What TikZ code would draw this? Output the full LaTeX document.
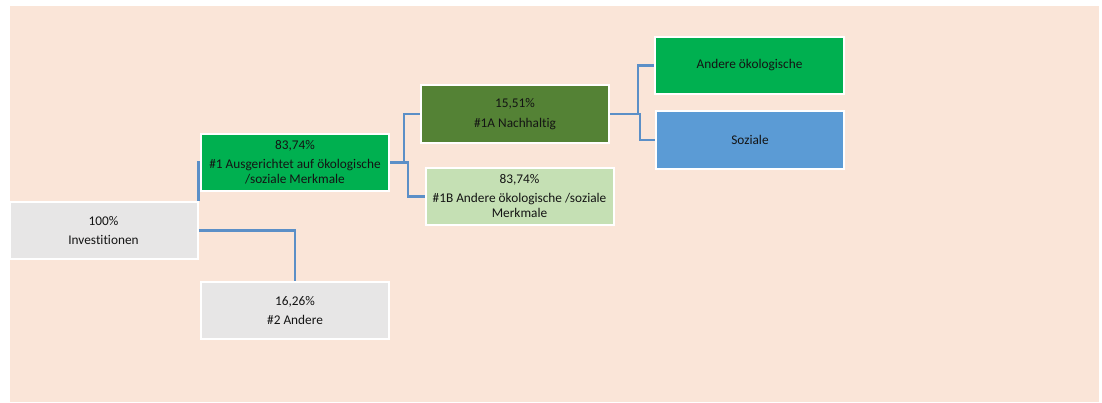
\documentclass[tikz,border=0pt]{standalone}
\usepackage{fontspec}
\setmainfont{Carlito}[Ligatures={NoCommon}]
\definecolor{bgpeach}{RGB}{250,229,216}
\definecolor{boxgray}{RGB}{231,230,230}
\definecolor{boxgreen}{RGB}{0,176,80}
\definecolor{boxdark}{RGB}{84,130,53}
\definecolor{boxlight}{RGB}{197,224,180}
\definecolor{boxblue}{RGB}{91,155,213}
\definecolor{linkblue}{RGB}{91,143,199}
\definecolor{txt}{RGB}{20,20,20}
\begin{document}
\begin{tikzpicture}[x=1pt,y=-1pt,
  box/.style={draw=white,line width=2pt,inner sep=0pt,minimum width=188pt,minimum height=57pt,
    align=center,text=txt,font=\fontsize{13.3}{15.5}\selectfont},
  link/.style={draw=linkblue,line width=2.4pt}]
\useasboundingbox (0,0) rectangle (1102,403);
\fill[white] (0,0) rectangle (1102,403);
\fill[bgpeach] (10,6) rectangle (1099,402);
\node[box,fill=boxgray] (inv) at (103.5,230.5) {100\%\\[4pt]Investitionen};
\node[box,fill=boxgreen] (n1) at (295,162.5) {83,74\%\\[3pt]\#1 Ausgerichtet auf ökologische\\/soziale Merkmale};
\node[box,fill=boxgray] (n2) at (295,310.5) {16,26\%\\[4pt]\#2 Andere};
\node[box,fill=boxdark,minimum height=58pt] (n1a) at (515,114) {15,51\%\\[4pt]\#1A Nachhaltig};
\node[box,fill=boxlight] (n1b) at (519.5,196.5) {83,74\%\\[3pt]\#1B Andere ökologische /soziale\\Merkmale};
\node[box,fill=boxgreen,minimum width=189pt] (eco) at (749.5,65.5) {Andere ökologische};
\node[box,fill=boxblue,minimum height=58pt] (soz) at (750,140) {Soziale};
\draw[link] (inv.north east) |- (n1.west);
\draw[link] (inv.east) -| (n2.north);
\draw[link] (n1.east) -- ++(14,0) |- (n1a.west);
\draw[link] (n1.east) -- ++(18,0) |- (n1b.west);
\draw[link] (n1a.east) -- ++(28,0) |- (eco.west);
\draw[link] (n1a.east) -- ++(30,0) |- (soz.west);
\end{tikzpicture}
\end{document}
